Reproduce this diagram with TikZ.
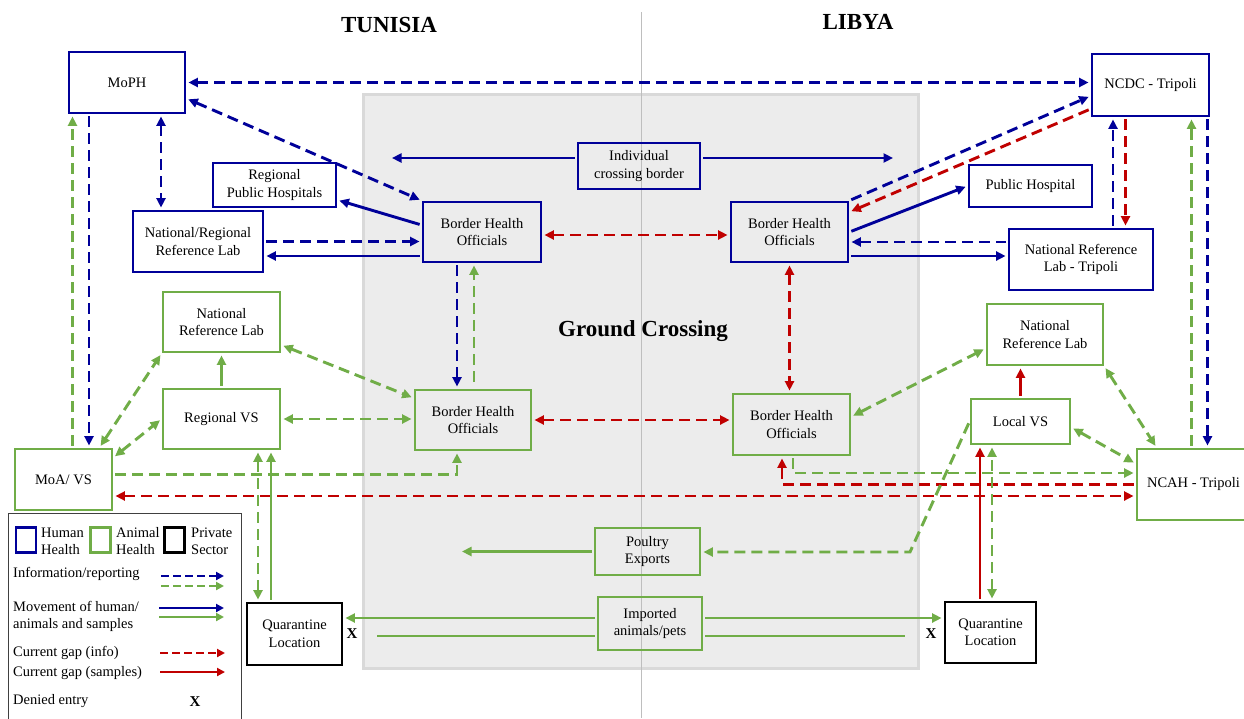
\documentclass[tikz,border=0pt]{standalone}
\usepackage{fontspec}
\setmainfont{Liberation Serif}
\usetikzlibrary{arrows.meta,calc}
\definecolor{hblue}{RGB}{0,0,153}
\definecolor{agreen}{RGB}{112,173,71}
\definecolor{gred}{RGB}{192,0,0}
\definecolor{zone}{RGB}{236,236,236}
\definecolor{zoneedge}{RGB}{217,217,217}
\definecolor{divider}{RGB}{190,190,190}
\begin{document}
\begin{tikzpicture}[x=1pt,y=-1pt,>={Triangle[length=9.5pt,width=9pt]},
  box/.style={draw,line width=2.9pt,inner sep=0pt,align=center,font=\fontsize{14.5}{17.5}\selectfont},
  hbox/.style={box,draw=hblue},
  abox/.style={box,draw=agreen},
  pbox/.style={box,draw=black},
  conn/.style={line width=2.9pt,shorten >=2pt,shorten <=2pt},
  info/.style={conn,dash pattern=on 11pt off 6pt},
  legline/.style={line width=2.6pt,>={Triangle[length=8pt,width=8pt]}},
  legdash/.style={legline,dash pattern=on 8pt off 4pt},
  title/.style={font=\fontsize{23}{26}\selectfont\bfseries},
  deny/.style={font=\fontsize{15}{17}\selectfont\bfseries,inner sep=0pt},
  legtxt/.style={font=\fontsize{14.5}{17}\selectfont,anchor=west,align=left,inner sep=0pt},
  legsq/.style={draw,line width=2.9pt,minimum width=20pt,minimum height=25pt,inner sep=0pt}]
\useasboundingbox (0,0) rectangle (1244,718);
\fill[white] (0,0) rectangle (1244,718);

% ground crossing zone
\draw[fill=zone,draw=zoneedge,line width=3pt] (363,94) rectangle (918,668);
\draw[divider,line width=0.9pt] (641,12) -- (641,718);

% titles
\node[title] (tn) at (389,25) {TUNISIA};
\node[title] (ly) at (858,22) {LIBYA};
\node[title] (gc) at (643,331) {Ground Crossing};

% human health boxes
\node[hbox,minimum width=116pt,minimum height=61pt] (moph) at (127,82.5) {MoPH};
\node[hbox,minimum width=117pt,minimum height=62pt] (ncdc) at (1150.5,85) {NCDC - Tripoli};
\node[hbox,minimum width=123pt,minimum height=44pt] (rph) at (274.5,185) {Regional\\Public Hospitals};
\node[hbox,minimum width=130pt,minimum height=61pt] (nrlab) at (198,241.5) {National/Regional\\Reference Lab};
\node[hbox,minimum width=122pt,minimum height=46pt] (ind) at (639,166) {Individual\\crossing border};
\node[hbox,minimum width=118pt,minimum height=60pt] (bhotnb) at (482,232) {Border Health\\Officials};
\node[hbox,minimum width=117pt,minimum height=60pt] (bholyb) at (789.5,232) {Border Health\\Officials};
\node[hbox,minimum width=123pt,minimum height=42pt] (ph) at (1030.5,186) {Public Hospital};
\node[hbox,minimum width=144pt,minimum height=61pt] (nrltrip) at (1081,259.5) {National Reference\\Lab - Tripoli};

% animal health boxes
\node[abox,minimum width=117pt,minimum height=60pt] (nrltn) at (221.5,322) {National\\Reference Lab};
\node[abox,minimum width=117pt,minimum height=60pt] (regvs) at (221.5,419) {Regional VS};
\node[abox,minimum width=116pt,minimum height=60pt] (bhotng) at (473,420) {Border Health\\Officials};
\node[abox,minimum width=117pt,minimum height=61pt] (bholyg) at (791.5,424.5) {Border Health\\Officials};
\node[abox,minimum width=116pt,minimum height=61pt] (nrlly) at (1045,334.5) {National\\Reference Lab};
\node[abox,minimum width=99pt,minimum height=45pt] (localvs) at (1020.5,421.5) {Local VS};
\node[abox,minimum width=97pt,minimum height=61pt] (moa) at (63.5,479.5) {MoA/ VS};
\node[abox,minimum width=113pt,minimum height=71pt] (ncah) at (1193.5,484.5) {NCAH - Tripoli};
\node[abox,minimum width=105pt,minimum height=47pt] (poultry) at (647.5,551.5) {Poultry\\Exports};
\node[abox,minimum width=104pt,minimum height=53pt] (imp) at (650,623.5) {Imported\\animals/pets};

% private sector boxes
\node[pbox,minimum width=95pt,minimum height=62pt] (qtn) at (294.5,634) {Quarantine\\Location};
\node[pbox,minimum width=91pt,minimum height=61pt] (qly) at (990.5,632.5) {Quarantine\\Location};

% ---- connectors: human side
\draw[info,hblue,<->] (moph.east) -- (moph.east -| ncdc.west);
\draw[info,hblue,<->] ([yshift=-16pt]moph.east) -- (bhotnb.north west);
\coordinate (a1) at ([xshift=34pt]moph.south);
\draw[info,hblue,<->] (a1) -- (a1 |- nrlab.north);
\coordinate (a2) at ([xshift=-38pt]moph.south);
\draw[info,hblue,->] (a2) -- (a2 |- moa.north);
\coordinate (a3) at ([xshift=9pt]moa.north);
\draw[info,agreen,->] (a3) -- (a3 |- moph.south);
\draw[info,hblue,->] (nrlab.east) -- (nrlab.east -| bhotnb.west);
\coordinate (a4) at ([yshift=-24pt]bhotnb.west);
\draw[conn,hblue,->] (a4) -- (a4 -| nrlab.east);
\draw[conn,hblue,->] ([yshift=7pt]bhotnb.west) -- ([yshift=-15pt]rph.east);
\coordinate (indL) at (390,158);
\coordinate (indR) at (895,158);
\draw[conn,hblue,->] (ind.west |- indL) -- (indL);
\draw[conn,hblue,->] (ind.east |- indR) -- (indR);
\coordinate (a5) at ([xshift=-25pt]bhotnb.south);
\draw[info,hblue,->] (a5) -- (a5 |- bhotng.north);
\coordinate (a6) at ([xshift=1pt]bhotng.north);
\draw[info,agreen,->,shorten <=7pt] (a6) -- (a6 |- bhotnb.south);
\coordinate (a0) at ([yshift=-3pt]bhotnb.east);
\draw[info,gred,<->] (a0) -- (a0 -| bholyb.west);
\draw[info,hblue,->] (bholyb.north east) -- ([yshift=-11pt]ncdc.west);
\draw[info,gred,->] ([yshift=-24pt]ncdc.west) -- ([yshift=20pt]bholyb.east);
\draw[conn,hblue,->] (bholyb.east) -- (ph.west);
\coordinate (a7) at ([yshift=-10pt]bholyb.east);
\draw[info,hblue,<-] (a7) -- (a7 -| nrltrip.west);
\coordinate (a8) at ([yshift=-24pt]bholyb.east);
\draw[conn,hblue,->] (a8) -- (a8 -| nrltrip.west);
\coordinate (a9) at ([xshift=32pt]nrltrip.north);
\draw[info,hblue,->] (a9) -- (a9 |- ncdc.south);
\coordinate (a10) at ([xshift=-25pt]ncdc.south);
\draw[info,gred,->] (a10) -- (a10 |- nrltrip.north);
\coordinate (a11) at ([xshift=41pt]ncdc.south);
\draw[info,agreen,->] (a11 |- ncah.north) -- (a11);
\coordinate (a12) at ([xshift=57pt]ncdc.south);
\draw[info,hblue,->] (a12) -- (a12 |- ncah.north);
\draw[info,gred,<->] (bholyb.south) -- (bholyb.south |- bholyg.north);

% ---- connectors: animal side
\draw[info,gred,<->] (bhotng.east) -- (bhotng.east -| bholyg.west);
\draw[info,agreen,<->] ([yshift=-23pt]nrltn.east) -- ([yshift=22pt]bhotng.west);
\draw[info,agreen,<->] (regvs.east) -- (regvs.east -| bhotng.west);
\draw[conn,agreen,->] (regvs.north) -- (nrltn.south);
\draw[info,agreen,<->] ([xshift=36pt]moa.north) -- (nrltn.south west);
\draw[info,agreen,<->] ([yshift=22pt]moa.east) -- (regvs.west);
\coordinate (a13) at ([xshift=-16pt]bhotng.south);
\draw[info,agreen,->] ([yshift=5pt]moa.east) -| (a13);
\coordinate (a14) at ([yshift=-16.5pt]moa.east);
\draw[info,gred,<->] (a14) -- (a14 -| ncah.west);
\coordinate (a15) at ([yshift=11.5pt]ncah.west);
\draw[info,agreen,->] ([xshift=1.5pt]bholyg.south) |- (a15);
\coordinate (a16) at ([xshift=-9.5pt]bholyg.south);
\draw[info,gred,->] (ncah.west) -| (a16);
\draw[info,agreen,<->] ([yshift=-6pt]localvs.east) -- ([yshift=21pt]ncah.west);
\draw[info,agreen,<->] (nrlly.south east) -- ([xshift=21pt]ncah.north west);
\draw[conn,gred,->] (localvs.north) -- (localvs.north |- nrlly.south);
\draw[info,agreen,<->] ([yshift=8pt]bholyg.east) -- ([yshift=-14pt]nrlly.west);
\coordinate (a17) at ([xshift=-10.5pt]qly.north);
\draw[conn,gred,->] (a17) -- (a17 |- localvs.south);
\coordinate (a18) at ([xshift=1.5pt]qly.north);
\draw[info,agreen,<->] (a18) -- (a18 |- localvs.south);
\coordinate (pbend) at (910,552);
\draw[info,agreen,->] (localvs.west) -- (pbend) -- (pbend -| poultry.east);
\coordinate (poutL) at (460,551.5);
\draw[conn,agreen,->] (poultry.west) -- (poutL);
\coordinate (b1) at ([yshift=5.5pt]imp.west);
\draw[conn,agreen,->] (b1) -- (b1 -| qtn.east);
\coordinate (b2e) at (375,636);
\draw[conn,agreen] ([yshift=-12.5pt]imp.west) -- (b2e);
\coordinate (b3) at ([yshift=5.5pt]imp.east);
\draw[conn,agreen,->] (b3) -- (b3 -| qly.west);
\coordinate (b4e) at (907,636);
\draw[conn,agreen] ([yshift=-12.5pt]imp.east) -- (b4e);
\node[deny] (x1) at (352,634) {X};
\node[deny] (x2) at (931,634) {X};
\coordinate (b5) at ([xshift=-23.5pt]qtn.north);
\draw[conn,agreen,->] (b5) -- (b5 |- regvs.south);
\coordinate (b6) at ([xshift=-36.5pt]qtn.north);
\draw[info,agreen,<->] (b6) -- (b6 |- regvs.south);

% ---- legend
\draw[draw=black!75,line width=0.9pt] (8,513) rectangle (241,724);
\node[legsq,draw=hblue] (lg1) at (26,540) {};
\node[legsq,draw=agreen] (lg2) at (100.5,540) {};
\node[legsq,draw=black] (lg3) at (174.5,540) {};
\node[legtxt] (lt1) at (41,541) {Human\\Health};
\node[legtxt] (lt2) at (116,541) {Animal\\Health};
\node[legtxt] (lt3) at (191,541) {Private\\Sector};
\node[legtxt] (lt4) at (13,574) {Information/reporting};
\node[legtxt] (lt5) at (13,616) {Movement of human/\\animals and samples};
\node[legtxt] (lt6) at (13,653) {Current gap (info)};
\node[legtxt] (lt7) at (13,673) {Current gap (samples)};
\node[legtxt] (lt8) at (13,701) {Denied entry};
\node[deny] (lx) at (195,702) {X};
\coordinate (l1s) at (161,576);  \coordinate (l1e) at (224,576);
\coordinate (l2s) at (161,586);  \coordinate (l2e) at (224,586);
\coordinate (l3s) at (159,608);  \coordinate (l3e) at (224,608);
\coordinate (l4s) at (159,617);  \coordinate (l4e) at (224,617);
\coordinate (l5s) at (160,653);  \coordinate (l5e) at (225,653);
\coordinate (l6s) at (160,672);  \coordinate (l6e) at (225,672);
\draw[legdash,hblue,->] (l1s) -- (l1e);
\draw[legdash,agreen,->] (l2s) -- (l2e);
\draw[legline,hblue,->] (l3s) -- (l3e);
\draw[legline,agreen,->] (l4s) -- (l4e);
\draw[legdash,gred,->] (l5s) -- (l5e);
\draw[legline,gred,->] (l6s) -- (l6e);
\end{tikzpicture}
\end{document}
